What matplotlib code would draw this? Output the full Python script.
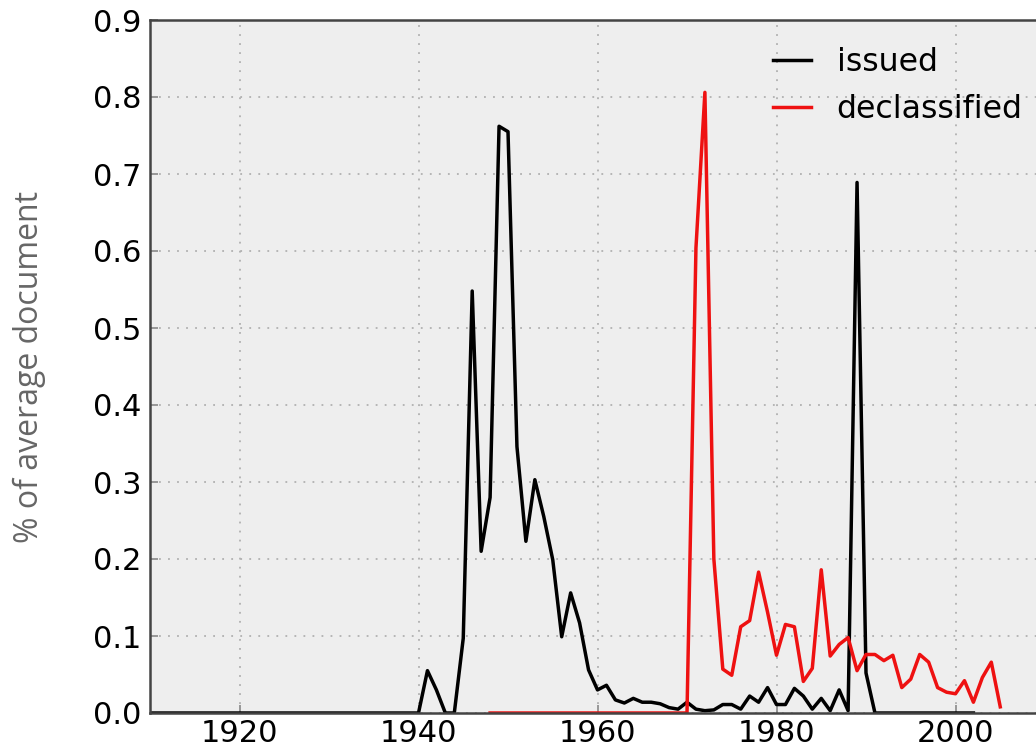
import matplotlib
matplotlib.use("Agg")
import matplotlib.pyplot as plt

# issued: share of average document by year
issued_years = list(range(1910, 2003))
issued_vals = [0.0] * 31 + [
    0.055, 0.030, 0.0, 0.0, 0.097, 0.548, 0.210, 0.280, 0.762, 0.755,   # 1941-1950
    0.346, 0.223, 0.303, 0.255, 0.199, 0.099, 0.156, 0.117, 0.056, 0.030,  # 1951-1960
    0.036, 0.017, 0.013, 0.019, 0.014, 0.014, 0.012, 0.007, 0.005, 0.014,  # 1961-1970
    0.005, 0.003, 0.004, 0.011, 0.011, 0.005, 0.022, 0.014, 0.033, 0.011,  # 1971-1980
    0.011, 0.032, 0.022, 0.005, 0.019, 0.003, 0.030, 0.003, 0.689, 0.052,  # 1981-1990
    0.0, 0.0, 0.0, 0.0, 0.0, 0.0, 0.0, 0.0, 0.0, 0.0, 0.0, 0.0,          # 1991-2002
]

# declassified
declass_years = list(range(1948, 2006))
declass_vals = [0.0] * 23 + [
    0.604, 0.806, 0.200, 0.057, 0.049, 0.112, 0.120, 0.183, 0.131, 0.075,  # 1971-1980
    0.115, 0.112, 0.041, 0.058, 0.186, 0.074, 0.089, 0.098, 0.055, 0.076,  # 1981-1990
    0.076, 0.068, 0.075, 0.033, 0.044, 0.076, 0.066, 0.033, 0.027, 0.025,  # 1991-2000
    0.042, 0.014, 0.046, 0.066, 0.008,                                     # 2001-2005
]

fig = plt.figure(figsize=(10.36, 7.51), dpi=100)
ax = fig.add_axes([150 / 1036, 38 / 751, 895 / 1036, 693 / 751])
ax.set_facecolor("#eeeeee")

ax.plot(issued_years, issued_vals, color="black", lw=2.5, label="issued")
ax.plot(declass_years, declass_vals, color="#ee1111", lw=2.5, label="declassified")

ax.set_xlim(1910, 2010)
ax.set_ylim(0, 0.9)
ax.set_xticks([1920, 1940, 1960, 1980, 2000])
ax.set_yticks([i / 10 for i in range(10)])
ax.set_yticklabels(["%.1f" % (i / 10) for i in range(10)])

ax.grid(True, color="#b0b0b0", linestyle=(0, (1, 4)), linewidth=1.3)
ax.set_axisbelow(True)
for s in ax.spines.values():
    s.set_color("#444444")
    s.set_linewidth(1.8)

ax.tick_params(axis="both", direction="in", colors="#888888", labelcolor="black",
               labelsize=22, length=6, width=1.2)
ax.tick_params(axis="x", pad=4)
ax.tick_params(axis="y", pad=6)

fig.text(29 / 1036, 1 - 367 / 751, "% of average document", rotation=90,
         ha="center", va="center", color="#666666", fontsize=23, family="Open Sans")

ax.legend(loc="upper left", bbox_to_anchor=(773 / 1036, 1 - 47 / 751),
          bbox_transform=fig.transFigure, frameon=False, fontsize=22.7,
          handlelength=1.2, handletextpad=0.82, labelspacing=0.5,
          borderpad=0, borderaxespad=0)

fig.savefig("out.png", dpi=100)
